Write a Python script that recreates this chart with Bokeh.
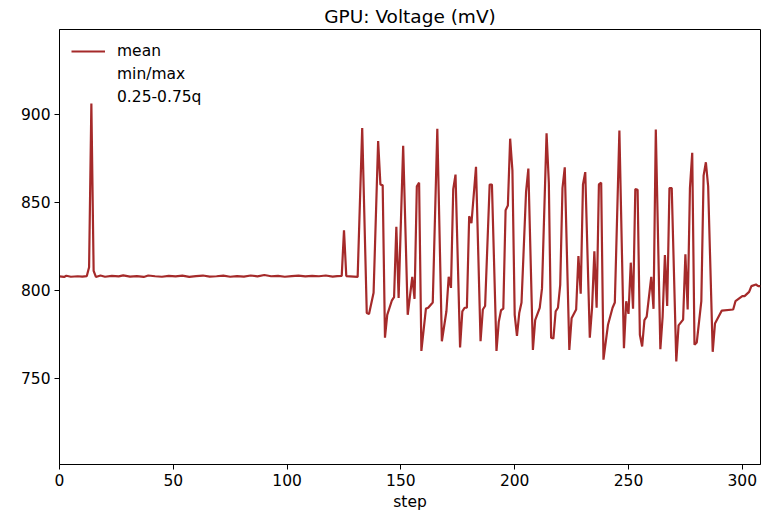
from bokeh.plotting import figure
from bokeh.models import Range1d, FixedTicker
from bokeh.embed import file_html
from bokeh.resources import INLINE

# mean GPU voltage per step (vertices)
steps = [0, 2, 3, 5, 8, 10, 12, 13, 14, 15, 16, 18, 20, 23, 26, 28, 31, 34, 37, 39,
         42, 45, 48, 51, 54, 57, 60, 63, 66, 69, 72, 75, 78, 81, 84, 87, 90, 93, 96, 99,
         102, 105, 108, 111, 114, 117, 120, 122, 124, 125, 126, 131,
         133, 135, 136, 138, 140, 141, 142, 143, 144, 146, 147, 148, 149, 151, 153, 155,
         156, 157, 158, 159, 161, 162, 164, 166, 168, 170, 171, 172, 173, 174, 176, 177,
         178, 179, 180, 181, 183, 185, 186, 187, 189, 190, 192, 193, 194, 195, 196, 197,
         198, 199, 200, 201, 202, 203, 205, 206, 208, 209, 211, 212, 214, 215, 216, 217,
         218, 219, 220, 221, 222, 224, 225, 227, 228, 229, 230, 231, 233, 234, 235, 236,
         237, 238, 239, 241, 243, 244, 246, 248, 249, 250, 251, 252, 253, 254, 255, 256,
         257, 258, 260, 261, 262, 264, 265, 266, 267, 268, 269, 271, 272, 274, 275, 276,
         277, 278, 279, 280, 282, 283, 284, 285, 287, 288, 291, 296, 297, 300, 301, 303,
         304, 306, 307, 308]
mean_mv = [807.8, 807.5, 808.2, 807.6, 807.9, 807.7, 808.0, 813.0, 906.0, 811.0, 807.5,
           808.3, 807.6, 808.1, 807.8, 808.4, 807.7, 808.0, 807.5, 808.3,
           807.9, 807.6, 808.1, 807.8, 808.2, 807.5, 808.0, 808.3, 807.7, 807.9,
           808.2, 807.6, 808.0, 807.7, 808.3, 807.8, 808.6, 807.9, 808.1, 807.6,
           808.0, 808.2, 807.8, 808.1, 807.9, 808.3, 807.7, 808.0, 808.1, 834.0, 808.0, 807.5,
           892.0, 787.0, 786.5, 798.5, 884.6, 860.0, 859.5, 773.0, 786.0, 794.0, 796.0, 836.0,
           795.6, 882.0, 786.0, 807.6, 795.0, 859.0, 861.0, 765.5, 789.5, 790.0, 793.0, 891.6,
           771.0, 788.0, 807.6, 801.3, 857.4, 865.6, 767.5, 788.0, 790.0, 790.0, 842.0, 838.0,
           870.0, 771.0, 789.0, 791.0, 860.0, 860.0, 765.5, 782.0, 788.6, 789.5, 845.4, 848.0,
           886.0, 868.0, 786.0, 774.0, 787.0, 793.0, 856.0, 869.0, 766.0, 783.0, 790.0, 801.0,
           889.0, 861.0, 773.0, 772.5, 788.0, 790.0, 803.0, 858.0, 869.7, 766.0, 784.0, 789.0,
           819.4, 798.0, 860.0, 867.0, 773.0, 790.0, 822.0, 790.0, 860.0, 861.0, 760.5, 780.4,
           790.0, 793.0, 890.6, 767.0, 793.7, 786.5, 815.6, 789.4, 857.4, 857.0, 774.7, 768.0,
           783.0, 785.0, 807.6, 789.4, 891.2, 766.5, 785.0, 820.0, 791.0, 858.0, 858.0, 759.5,
           780.0, 783.3, 820.4, 789.0, 858.0, 878.0, 769.0, 770.3, 793.7, 865.0, 872.6, 859.0,
           765.0, 781.0, 788.4, 789.0, 793.7, 796.6, 796.6, 799.0, 802.3, 803.2, 802.3, 802.3]

x_ticks = [0, 50, 100, 150, 200, 250, 300]
y_ticks = [750, 800, 850, 900]

font = "DejaVu Sans"
line_color = "#a52a2a"

p = figure(width=774, height=513, title="GPU: Voltage (mV)",
           output_backend="svg", toolbar_location=None,
           x_range=Range1d(0, 308), y_range=Range1d(701, 948),
           x_axis_label="step", min_border_left=59, min_border_right=14,
           min_border_bottom=49, min_border_top=26)

p.line(steps, mean_mv, line_color=line_color, line_width=2.2, legend_label="mean")
# bands are present in the legend but not visible in the chart
p.varea(x=steps, y1=mean_mv, y2=mean_mv, fill_alpha=0, legend_label="min/max")
p.varea(x=steps, y1=mean_mv, y2=mean_mv, fill_alpha=0, legend_label="0.25-0.75q")

p.title.align = "center"
p.title.text_font = font
p.title.text_font_size = "18.5px"
p.title.text_font_style = "normal"
p.title.text_color = "black"
p.title.standoff = 6

p.xgrid.visible = False
p.ygrid.visible = False
p.outline_line_color = "black"
p.outline_line_alpha = 1
p.outline_line_width = 1

p.xaxis.ticker = FixedTicker(ticks=x_ticks)
p.yaxis.ticker = FixedTicker(ticks=y_ticks)
for ax in (p.xaxis, p.yaxis):
    ax.axis_line_color = "black"
    ax.major_tick_line_color = "black"
    ax.major_tick_in = 0
    ax.major_tick_out = 5
    ax.minor_tick_line_color = None
    ax.major_label_standoff = 4
    ax.major_label_text_font = font
    ax.major_label_text_font_size = "15.5px"
    ax.major_label_text_color = "black"
    ax.axis_label_text_font = font
    ax.axis_label_text_font_size = "15.5px"
    ax.axis_label_text_font_style = "normal"
    ax.axis_label_text_color = "black"
p.xaxis.axis_label_standoff = 4

p.legend.location = "top_left"
p.legend.border_line_alpha = 0
p.legend.background_fill_alpha = 0
p.legend.margin = 0
p.legend.padding = 12
p.legend.spacing = 3
p.legend.glyph_width = 34
p.legend.label_standoff = 12
p.legend.label_text_font = font
p.legend.label_text_font_size = "15.5px"
p.legend.label_text_color = "black"

open("out.html", "w").write(file_html(p, INLINE))
